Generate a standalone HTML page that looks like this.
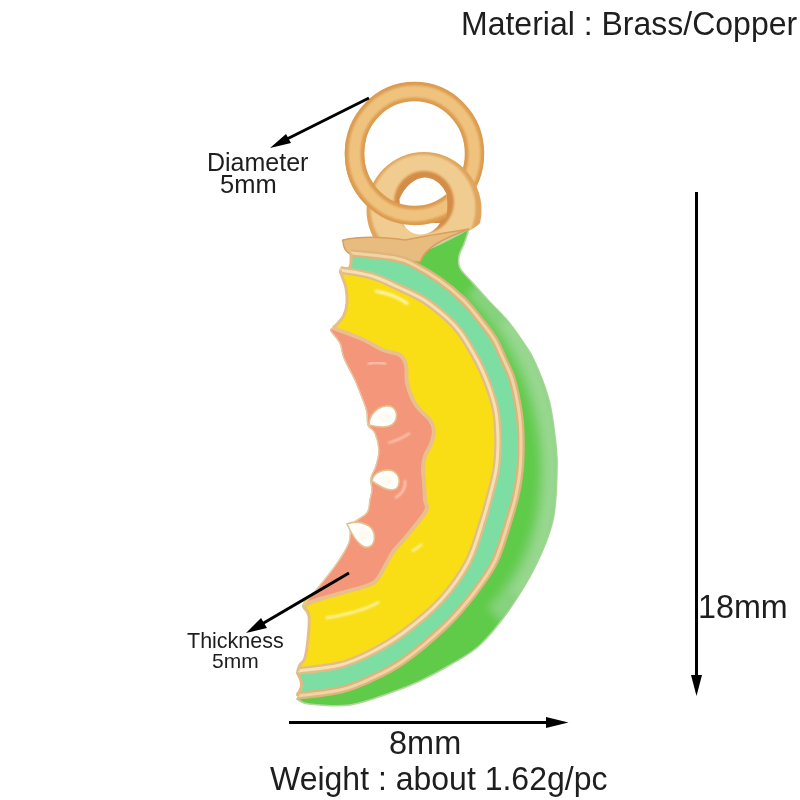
<!DOCTYPE html>
<html><head><meta charset="utf-8">
<style>
html,body{margin:0;padding:0;background:#fff;}
body{width:800px;height:800px;position:relative;overflow:hidden;font-family:"Liberation Sans",sans-serif;color:#1e1e1e;}
.t{position:absolute;white-space:nowrap;line-height:1;will-change:transform;}
svg{position:absolute;left:0;top:0;}
</style></head><body>
<svg width="800" height="800" viewBox="0 0 800 800">
<defs>
<filter id="soft" x="0" y="0" width="800" height="800" filterUnits="userSpaceOnUse"><feGaussianBlur stdDeviation="0.7"/></filter>
<filter id="b1" x="-20%" y="-20%" width="140%" height="140%"><feGaussianBlur stdDeviation="1.2"/></filter>
<filter id="b2" x="-20%" y="-20%" width="140%" height="140%"><feGaussianBlur stdDeviation="2.5"/></filter>
<filter id="b4" x="-20%" y="-20%" width="140%" height="140%"><feGaussianBlur stdDeviation="5"/></filter>
<clipPath id="cfront"><path d="M330 140 L440 140 C446 180 448 200 447 212 L444 240 L330 240 Z"/></clipPath>
<clipPath id="csr"><path d="M350 140 L500 140 L500 200 C490 215 480 225 469 231 L440 270 L350 270 Z"/></clipPath>
<clipPath id="cg"><path d="M469.0 229.0 C468.2 231.5 465.7 239.5 464.0 244.0 C462.3 248.5 459.7 252.0 459.0 256.0 C458.3 260.0 458.0 263.8 460.0 268.0 C462.0 272.2 466.3 275.7 471.0 281.0 C475.7 286.3 482.0 293.5 488.0 300.0 C494.0 306.5 501.5 313.5 507.0 320.0 C512.5 326.5 516.5 332.3 521.0 339.0 C525.5 345.7 529.3 349.8 534.0 360.0 C538.7 370.2 545.3 385.8 549.0 400.0 C552.7 414.2 554.7 433.0 556.0 445.0 C557.3 457.0 557.5 459.5 557.0 472.0 C556.5 484.5 556.5 504.5 553.0 520.0 C549.5 535.5 543.3 550.0 536.0 565.0 C528.7 580.0 518.3 596.7 509.0 610.0 C499.7 623.3 489.8 635.8 480.0 645.0 C470.2 654.2 460.0 659.0 450.0 665.0 C440.0 671.0 430.0 676.3 420.0 681.0 C410.0 685.7 401.7 689.0 390.0 693.0 C378.3 697.0 363.5 703.2 350.0 705.0 C336.5 706.8 317.8 705.0 309.0 704.0 C300.2 703.0 299.0 699.8 297.0 699.0 C297.7 697.2 300.3 691.0 301.0 688.0 C301.7 685.0 301.7 683.7 301.0 681.0 C300.3 678.3 297.2 674.7 297.0 672.0 C296.8 669.3 298.7 667.3 300.0 665.0 C301.3 662.7 303.7 662.3 305.0 658.0 C306.3 653.7 307.3 646.0 308.0 639.0 C308.7 632.0 309.8 621.7 309.0 616.0 C308.2 610.3 301.5 609.7 303.0 605.0 C304.5 600.3 312.5 594.7 318.0 588.0 C323.5 581.3 330.8 572.5 336.0 565.0 C341.2 557.5 346.3 549.7 349.0 543.0 C351.7 536.3 349.0 530.0 352.0 525.0 C355.0 520.0 364.0 517.2 367.0 513.0 C370.0 508.8 369.2 503.8 370.0 500.0 C370.8 496.2 371.8 493.7 372.0 490.0 C372.2 486.3 370.3 482.0 371.0 478.0 C371.7 474.0 374.7 470.7 376.0 466.0 C377.3 461.3 379.2 455.5 379.0 450.0 C378.8 444.5 376.8 437.2 375.0 433.0 C373.2 428.8 369.3 428.5 368.0 425.0 C366.7 421.5 367.8 416.2 367.0 412.0 C366.2 407.8 365.0 405.3 363.0 400.0 C361.0 394.7 358.2 387.0 355.0 380.0 C351.8 373.0 346.5 364.2 344.0 358.0 C341.5 351.8 342.2 347.5 340.0 343.0 C337.8 338.5 332.2 333.5 331.0 331.0 C329.8 328.5 331.7 329.5 333.0 328.0 C334.3 326.5 337.2 324.2 339.0 322.0 C340.8 319.8 342.7 318.2 344.0 315.0 C345.3 311.8 346.7 307.5 347.0 303.0 C347.3 298.5 346.8 292.5 346.0 288.0 C345.2 283.5 343.0 279.0 342.0 276.0 C341.0 273.0 338.7 271.5 340.0 270.0 C341.3 268.5 348.2 269.8 350.0 267.0 C351.8 264.2 352.2 257.3 351.0 253.0 C349.8 248.7 344.3 243.0 343.0 241.0 C350.8 242.8 376.3 250.5 390.0 252.0 C403.7 253.5 411.8 253.8 425.0 250.0 C438.2 246.2 461.7 232.5 469.0 229.0 Z"/></clipPath>
<clipPath id="cy"><path d="M340.0 270.0 C345.3 271.0 362.0 273.0 372.0 276.0 C382.0 279.0 391.3 284.0 400.0 288.0 C408.7 292.0 416.2 295.0 424.0 300.0 C431.8 305.0 441.0 312.7 447.0 318.0 C453.0 323.3 455.8 326.5 460.0 332.0 C464.2 337.5 468.3 344.7 472.0 351.0 C475.7 357.3 479.0 363.5 482.0 370.0 C485.0 376.5 487.8 383.8 490.0 390.0 C492.2 396.2 493.8 402.0 495.0 407.0 C496.2 412.0 496.5 413.7 497.0 420.0 C497.5 426.3 498.2 436.7 498.0 445.0 C497.8 453.3 497.3 461.7 496.0 470.0 C494.7 478.3 492.2 486.7 490.0 495.0 C487.8 503.3 486.7 508.8 483.0 520.0 C479.3 531.2 475.0 548.7 468.0 562.0 C461.0 575.3 451.8 588.2 441.0 600.0 C430.2 611.8 414.8 624.2 403.0 633.0 C391.2 641.8 380.5 647.7 370.0 653.0 C359.5 658.3 352.0 662.0 340.0 665.0 C328.0 668.0 305.0 670.0 298.0 671.0 C298.3 670.0 298.8 667.2 300.0 665.0 C301.2 662.8 303.7 662.3 305.0 658.0 C306.3 653.7 307.3 646.0 308.0 639.0 C308.7 632.0 309.8 621.7 309.0 616.0 C308.2 610.3 301.5 609.7 303.0 605.0 C304.5 600.3 312.5 594.7 318.0 588.0 C323.5 581.3 330.8 572.5 336.0 565.0 C341.2 557.5 346.3 549.7 349.0 543.0 C351.7 536.3 349.0 530.0 352.0 525.0 C355.0 520.0 364.0 517.2 367.0 513.0 C370.0 508.8 369.2 503.8 370.0 500.0 C370.8 496.2 371.8 493.7 372.0 490.0 C372.2 486.3 370.3 482.0 371.0 478.0 C371.7 474.0 374.7 470.7 376.0 466.0 C377.3 461.3 379.2 455.5 379.0 450.0 C378.8 444.5 376.8 437.2 375.0 433.0 C373.2 428.8 369.3 428.5 368.0 425.0 C366.7 421.5 367.8 416.2 367.0 412.0 C366.2 407.8 365.0 405.3 363.0 400.0 C361.0 394.7 358.2 387.0 355.0 380.0 C351.8 373.0 346.5 364.2 344.0 358.0 C341.5 351.8 342.2 347.5 340.0 343.0 C337.8 338.5 332.2 333.5 331.0 331.0 C329.8 328.5 331.7 329.5 333.0 328.0 C334.3 326.5 337.2 324.2 339.0 322.0 C340.8 319.8 342.7 318.2 344.0 315.0 C345.3 311.8 346.7 307.5 347.0 303.0 C347.3 298.5 346.8 292.5 346.0 288.0 C345.2 283.5 343.0 279.0 342.0 276.0 C341.0 273.0 340.3 271.0 340.0 270.0 Z"/></clipPath>
<clipPath id="cs"><path d="M333.0 328.0 C337.8 329.8 353.7 335.3 362.0 339.0 C370.3 342.7 376.7 347.3 383.0 350.0 C389.3 352.7 396.2 352.5 400.0 355.0 C403.8 357.5 404.8 360.3 406.0 365.0 C407.2 369.7 405.8 377.2 407.0 383.0 C408.2 388.8 410.8 395.5 413.0 400.0 C415.2 404.5 417.2 406.7 420.0 410.0 C422.8 413.3 427.7 416.5 430.0 420.0 C432.3 423.5 433.8 427.0 434.0 431.0 C434.2 435.0 432.5 439.8 431.0 444.0 C429.5 448.2 426.3 451.8 425.0 456.0 C423.7 460.2 423.2 464.8 423.0 469.0 C422.8 473.2 423.7 475.8 424.0 481.0 C424.3 486.2 424.7 495.0 425.0 500.0 C425.3 505.0 429.2 504.8 426.0 511.0 C422.8 517.2 411.5 530.2 406.0 537.0 C400.5 543.8 396.5 547.2 393.0 552.0 C389.5 556.8 388.3 560.8 385.0 566.0 C381.7 571.2 379.7 578.7 373.0 583.0 C366.3 587.3 353.8 589.3 345.0 592.0 C336.2 594.7 326.8 596.8 320.0 599.0 C313.2 601.2 306.7 604.0 304.0 605.0 C306.3 602.2 312.7 594.7 318.0 588.0 C323.3 581.3 330.8 572.5 336.0 565.0 C341.2 557.5 346.3 549.7 349.0 543.0 C351.7 536.3 349.0 530.0 352.0 525.0 C355.0 520.0 364.0 517.2 367.0 513.0 C370.0 508.8 369.2 503.8 370.0 500.0 C370.8 496.2 371.8 493.7 372.0 490.0 C372.2 486.3 370.3 482.0 371.0 478.0 C371.7 474.0 374.7 470.7 376.0 466.0 C377.3 461.3 379.2 455.5 379.0 450.0 C378.8 444.5 376.8 437.2 375.0 433.0 C373.2 428.8 369.3 428.5 368.0 425.0 C366.7 421.5 367.8 416.2 367.0 412.0 C366.2 407.8 365.0 405.3 363.0 400.0 C361.0 394.7 358.2 387.0 355.0 380.0 C351.8 373.0 346.5 364.2 344.0 358.0 C341.5 351.8 342.2 347.5 340.0 343.0 C337.8 338.5 332.2 333.5 331.0 331.0 C329.8 328.5 332.7 328.5 333.0 328.0 Z"/></clipPath>
</defs>
<g filter="url(#soft)">
<!-- big jump ring back -->
<g id="bigring">
<ellipse cx="414.5" cy="153.5" rx="60" ry="62" fill="none" stroke="#dc9c50" stroke-width="19.5"/>
<ellipse cx="414.5" cy="153.5" rx="60" ry="62" fill="none" stroke="#efc27e" stroke-width="12" filter="url(#b1)"/>
</g>
<!-- small ring -->
<g clip-path="url(#csr)">
<ellipse cx="424" cy="210" rx="57.5" ry="58" fill="#e0a45c"/>
<ellipse cx="423" cy="208" rx="52.5" ry="53.5" fill="#f1cc90" filter="url(#b1)"/>
</g>
<ellipse cx="424" cy="202" rx="30" ry="31" fill="#d48d46" filter="url(#b1)"/>
<path d="M399.5 199 C405 186 415 177.5 425 177.5 C436 178 443 186 447 195 L446 207 L400 207 Z" fill="#fff"/>
<path d="M403 223 L440 223 C436 230 428 234.5 420 234.5 C412 234 406 230 403 223 Z" fill="#fff"/>
<!-- big ring front part -->
<g clip-path="url(#cfront)"><use href="#bigring"/></g>
<!-- charm body -->
<path d="M469.0 229.0 C468.2 231.5 465.7 239.5 464.0 244.0 C462.3 248.5 459.7 252.0 459.0 256.0 C458.3 260.0 458.0 263.8 460.0 268.0 C462.0 272.2 466.3 275.7 471.0 281.0 C475.7 286.3 482.0 293.5 488.0 300.0 C494.0 306.5 501.5 313.5 507.0 320.0 C512.5 326.5 516.5 332.3 521.0 339.0 C525.5 345.7 529.3 349.8 534.0 360.0 C538.7 370.2 545.3 385.8 549.0 400.0 C552.7 414.2 554.7 433.0 556.0 445.0 C557.3 457.0 557.5 459.5 557.0 472.0 C556.5 484.5 556.5 504.5 553.0 520.0 C549.5 535.5 543.3 550.0 536.0 565.0 C528.7 580.0 518.3 596.7 509.0 610.0 C499.7 623.3 489.8 635.8 480.0 645.0 C470.2 654.2 460.0 659.0 450.0 665.0 C440.0 671.0 430.0 676.3 420.0 681.0 C410.0 685.7 401.7 689.0 390.0 693.0 C378.3 697.0 363.5 703.2 350.0 705.0 C336.5 706.8 317.8 705.0 309.0 704.0 C300.2 703.0 299.0 699.8 297.0 699.0 C297.7 697.2 300.3 691.0 301.0 688.0 C301.7 685.0 301.7 683.7 301.0 681.0 C300.3 678.3 297.2 674.7 297.0 672.0 C296.8 669.3 298.7 667.3 300.0 665.0 C301.3 662.7 303.7 662.3 305.0 658.0 C306.3 653.7 307.3 646.0 308.0 639.0 C308.7 632.0 309.8 621.7 309.0 616.0 C308.2 610.3 301.5 609.7 303.0 605.0 C304.5 600.3 312.5 594.7 318.0 588.0 C323.5 581.3 330.8 572.5 336.0 565.0 C341.2 557.5 346.3 549.7 349.0 543.0 C351.7 536.3 349.0 530.0 352.0 525.0 C355.0 520.0 364.0 517.2 367.0 513.0 C370.0 508.8 369.2 503.8 370.0 500.0 C370.8 496.2 371.8 493.7 372.0 490.0 C372.2 486.3 370.3 482.0 371.0 478.0 C371.7 474.0 374.7 470.7 376.0 466.0 C377.3 461.3 379.2 455.5 379.0 450.0 C378.8 444.5 376.8 437.2 375.0 433.0 C373.2 428.8 369.3 428.5 368.0 425.0 C366.7 421.5 367.8 416.2 367.0 412.0 C366.2 407.8 365.0 405.3 363.0 400.0 C361.0 394.7 358.2 387.0 355.0 380.0 C351.8 373.0 346.5 364.2 344.0 358.0 C341.5 351.8 342.2 347.5 340.0 343.0 C337.8 338.5 332.2 333.5 331.0 331.0 C329.8 328.5 331.7 329.5 333.0 328.0 C334.3 326.5 337.2 324.2 339.0 322.0 C340.8 319.8 342.7 318.2 344.0 315.0 C345.3 311.8 346.7 307.5 347.0 303.0 C347.3 298.5 346.8 292.5 346.0 288.0 C345.2 283.5 343.0 279.0 342.0 276.0 C341.0 273.0 338.7 271.5 340.0 270.0 C341.3 268.5 348.2 269.8 350.0 267.0 C351.8 264.2 352.2 257.3 351.0 253.0 C349.8 248.7 344.3 243.0 343.0 241.0 C350.8 242.8 376.3 250.5 390.0 252.0 C403.7 253.5 411.8 253.8 425.0 250.0 C438.2 246.2 461.7 232.5 469.0 229.0 Z" fill="#5fcb4a" stroke="#b4d6a0" stroke-width="1.6"/>
<g clip-path="url(#cg)">
<path d="M478 283 C530 335 556 405 556 470 C556 535 535 580 500 620" fill="none" stroke="#8ed486" stroke-width="34" opacity="0.85" filter="url(#b4)"/>
<path d="M505 320 C538 365 552 420 552 470 C552 525 538 565 515 595" fill="none" stroke="#a8dca0" stroke-width="10" opacity="0.7" filter="url(#b4)"/>
</g>
<!-- gold plate -->
<path d="M343 240 C360 236 385 237 405 240 C425 236 450 232 469 229 C458 233 446 238 436 244 C428 249 423 254 420 262 C408 261 392 258 380 256 C365 255 355 255 350 254 C346 252 343 248 343 240 Z" fill="#e8bc7e" stroke="#d99e5c" stroke-width="1.5"/>
<path d="M351.0 253.0 C358.3 253.8 384.5 256.0 395.0 258.0 C405.5 260.0 406.7 261.3 414.0 265.0 C421.3 268.7 430.8 274.2 439.0 280.0 C447.2 285.8 456.2 293.3 463.0 300.0 C469.8 306.7 474.8 313.5 480.0 320.0 C485.2 326.5 490.2 332.7 494.0 339.0 C497.8 345.3 500.2 351.8 503.0 358.0 C505.8 364.2 508.8 369.8 511.0 376.0 C513.2 382.2 514.5 387.7 516.0 395.0 C517.5 402.3 519.2 411.7 520.0 420.0 C520.8 428.3 521.0 436.7 521.0 445.0 C521.0 453.3 520.8 461.7 520.0 470.0 C519.2 478.3 517.8 486.7 516.0 495.0 C514.2 503.3 512.5 509.0 509.0 520.0 C505.5 531.0 500.8 548.8 495.0 561.0 C489.2 573.2 482.2 582.3 474.0 593.0 C465.8 603.7 457.8 613.7 446.0 625.0 C434.2 636.3 415.7 652.0 403.0 661.0 C390.3 670.0 380.5 674.2 370.0 679.0 C359.5 683.8 352.2 687.2 340.0 690.0 C327.8 692.8 304.2 695.0 297.0 696.0 C297.7 694.7 300.3 690.5 301.0 688.0 C301.7 685.5 301.7 683.7 301.0 681.0 C300.3 678.3 297.2 674.7 297.0 672.0 C296.8 669.3 298.7 667.3 300.0 665.0 C301.3 662.7 303.7 662.3 305.0 658.0 C306.3 653.7 307.3 646.0 308.0 639.0 C308.7 632.0 309.8 621.7 309.0 616.0 C308.2 610.3 301.5 609.7 303.0 605.0 C304.5 600.3 312.5 594.7 318.0 588.0 C323.5 581.3 330.8 572.5 336.0 565.0 C341.2 557.5 346.3 549.7 349.0 543.0 C351.7 536.3 349.0 530.0 352.0 525.0 C355.0 520.0 364.0 517.2 367.0 513.0 C370.0 508.8 369.2 503.8 370.0 500.0 C370.8 496.2 371.8 493.7 372.0 490.0 C372.2 486.3 370.3 482.0 371.0 478.0 C371.7 474.0 374.7 470.7 376.0 466.0 C377.3 461.3 379.2 455.5 379.0 450.0 C378.8 444.5 376.8 437.2 375.0 433.0 C373.2 428.8 369.3 428.5 368.0 425.0 C366.7 421.5 367.8 416.2 367.0 412.0 C366.2 407.8 365.0 405.3 363.0 400.0 C361.0 394.7 358.2 387.0 355.0 380.0 C351.8 373.0 346.5 364.2 344.0 358.0 C341.5 351.8 342.2 347.5 340.0 343.0 C337.8 338.5 332.2 333.5 331.0 331.0 C329.8 328.5 331.7 329.5 333.0 328.0 C334.3 326.5 337.2 324.2 339.0 322.0 C340.8 319.8 342.7 318.2 344.0 315.0 C345.3 311.8 346.7 307.5 347.0 303.0 C347.3 298.5 346.8 292.5 346.0 288.0 C345.2 283.5 343.0 279.0 342.0 276.0 C341.0 273.0 338.7 271.5 340.0 270.0 C341.3 268.5 348.2 269.8 350.0 267.0 C351.8 264.2 350.8 255.3 351.0 253.0 Z" fill="#7ddea4"/>
<path d="M351.0 253.0 C358.3 253.8 384.5 256.0 395.0 258.0 C405.5 260.0 406.7 261.3 414.0 265.0 C421.3 268.7 430.8 274.2 439.0 280.0 C447.2 285.8 456.2 293.3 463.0 300.0 C469.8 306.7 474.8 313.5 480.0 320.0 C485.2 326.5 490.2 332.7 494.0 339.0 C497.8 345.3 500.2 351.8 503.0 358.0 C505.8 364.2 508.8 369.8 511.0 376.0 C513.2 382.2 514.5 387.7 516.0 395.0 C517.5 402.3 519.2 411.7 520.0 420.0 C520.8 428.3 521.0 436.7 521.0 445.0 C521.0 453.3 520.8 461.7 520.0 470.0 C519.2 478.3 517.8 486.7 516.0 495.0 C514.2 503.3 512.5 509.0 509.0 520.0 C505.5 531.0 500.8 548.8 495.0 561.0 C489.2 573.2 482.2 582.3 474.0 593.0 C465.8 603.7 457.8 613.7 446.0 625.0 C434.2 636.3 415.7 652.0 403.0 661.0 C390.3 670.0 380.5 674.2 370.0 679.0 C359.5 683.8 352.2 687.2 340.0 690.0 C327.8 692.8 304.2 695.0 297.0 696.0" fill="none" stroke="#dfb47c" stroke-width="7.5"/>
<path d="M351.0 253.0 C358.3 253.8 384.5 256.0 395.0 258.0 C405.5 260.0 406.7 261.3 414.0 265.0 C421.3 268.7 430.8 274.2 439.0 280.0 C447.2 285.8 456.2 293.3 463.0 300.0 C469.8 306.7 474.8 313.5 480.0 320.0 C485.2 326.5 490.2 332.7 494.0 339.0 C497.8 345.3 500.2 351.8 503.0 358.0 C505.8 364.2 508.8 369.8 511.0 376.0 C513.2 382.2 514.5 387.7 516.0 395.0 C517.5 402.3 519.2 411.7 520.0 420.0 C520.8 428.3 521.0 436.7 521.0 445.0 C521.0 453.3 520.8 461.7 520.0 470.0 C519.2 478.3 517.8 486.7 516.0 495.0 C514.2 503.3 512.5 509.0 509.0 520.0 C505.5 531.0 500.8 548.8 495.0 561.0 C489.2 573.2 482.2 582.3 474.0 593.0 C465.8 603.7 457.8 613.7 446.0 625.0 C434.2 636.3 415.7 652.0 403.0 661.0 C390.3 670.0 380.5 674.2 370.0 679.0 C359.5 683.8 352.2 687.2 340.0 690.0 C327.8 692.8 304.2 695.0 297.0 696.0" fill="none" stroke="#efd4a4" stroke-width="3"/>
<path d="M297.0 696.0 C297.7 694.7 300.3 690.5 301.0 688.0 C301.7 685.5 301.7 683.7 301.0 681.0 C300.3 678.3 297.7 673.5 297.0 672.0" fill="none" stroke="#e3b97e" stroke-width="3"/>
<path d="M340.0 270.0 C341.7 269.5 348.2 269.8 350.0 267.0 C351.8 264.2 350.8 255.3 351.0 253.0" fill="none" stroke="#e3b97e" stroke-width="3"/>
<path d="M340.0 270.0 C345.3 271.0 362.0 273.0 372.0 276.0 C382.0 279.0 391.3 284.0 400.0 288.0 C408.7 292.0 416.2 295.0 424.0 300.0 C431.8 305.0 441.0 312.7 447.0 318.0 C453.0 323.3 455.8 326.5 460.0 332.0 C464.2 337.5 468.3 344.7 472.0 351.0 C475.7 357.3 479.0 363.5 482.0 370.0 C485.0 376.5 487.8 383.8 490.0 390.0 C492.2 396.2 493.8 402.0 495.0 407.0 C496.2 412.0 496.5 413.7 497.0 420.0 C497.5 426.3 498.2 436.7 498.0 445.0 C497.8 453.3 497.3 461.7 496.0 470.0 C494.7 478.3 492.2 486.7 490.0 495.0 C487.8 503.3 486.7 508.8 483.0 520.0 C479.3 531.2 475.0 548.7 468.0 562.0 C461.0 575.3 451.8 588.2 441.0 600.0 C430.2 611.8 414.8 624.2 403.0 633.0 C391.2 641.8 380.5 647.7 370.0 653.0 C359.5 658.3 352.0 662.0 340.0 665.0 C328.0 668.0 305.0 670.0 298.0 671.0 C298.3 670.0 298.8 667.2 300.0 665.0 C301.2 662.8 303.7 662.3 305.0 658.0 C306.3 653.7 307.3 646.0 308.0 639.0 C308.7 632.0 309.8 621.7 309.0 616.0 C308.2 610.3 301.5 609.7 303.0 605.0 C304.5 600.3 312.5 594.7 318.0 588.0 C323.5 581.3 330.8 572.5 336.0 565.0 C341.2 557.5 346.3 549.7 349.0 543.0 C351.7 536.3 349.0 530.0 352.0 525.0 C355.0 520.0 364.0 517.2 367.0 513.0 C370.0 508.8 369.2 503.8 370.0 500.0 C370.8 496.2 371.8 493.7 372.0 490.0 C372.2 486.3 370.3 482.0 371.0 478.0 C371.7 474.0 374.7 470.7 376.0 466.0 C377.3 461.3 379.2 455.5 379.0 450.0 C378.8 444.5 376.8 437.2 375.0 433.0 C373.2 428.8 369.3 428.5 368.0 425.0 C366.7 421.5 367.8 416.2 367.0 412.0 C366.2 407.8 365.0 405.3 363.0 400.0 C361.0 394.7 358.2 387.0 355.0 380.0 C351.8 373.0 346.5 364.2 344.0 358.0 C341.5 351.8 342.2 347.5 340.0 343.0 C337.8 338.5 332.2 333.5 331.0 331.0 C329.8 328.5 331.7 329.5 333.0 328.0 C334.3 326.5 337.2 324.2 339.0 322.0 C340.8 319.8 342.7 318.2 344.0 315.0 C345.3 311.8 346.7 307.5 347.0 303.0 C347.3 298.5 346.8 292.5 346.0 288.0 C345.2 283.5 343.0 279.0 342.0 276.0 C341.0 273.0 340.3 271.0 340.0 270.0 Z" fill="#f9de16"/>
<path d="M340.0 270.0 C345.3 271.0 362.0 273.0 372.0 276.0 C382.0 279.0 391.3 284.0 400.0 288.0 C408.7 292.0 416.2 295.0 424.0 300.0 C431.8 305.0 441.0 312.7 447.0 318.0 C453.0 323.3 455.8 326.5 460.0 332.0 C464.2 337.5 468.3 344.7 472.0 351.0 C475.7 357.3 479.0 363.5 482.0 370.0 C485.0 376.5 487.8 383.8 490.0 390.0 C492.2 396.2 493.8 402.0 495.0 407.0 C496.2 412.0 496.5 413.7 497.0 420.0 C497.5 426.3 498.2 436.7 498.0 445.0 C497.8 453.3 497.3 461.7 496.0 470.0 C494.7 478.3 492.2 486.7 490.0 495.0 C487.8 503.3 486.7 508.8 483.0 520.0 C479.3 531.2 475.0 548.7 468.0 562.0 C461.0 575.3 451.8 588.2 441.0 600.0 C430.2 611.8 414.8 624.2 403.0 633.0 C391.2 641.8 380.5 647.7 370.0 653.0 C359.5 658.3 352.0 662.0 340.0 665.0 C328.0 668.0 305.0 670.0 298.0 671.0" fill="none" stroke="#e2bc86" stroke-width="7.5"/>
<path d="M340.0 270.0 C345.3 271.0 362.0 273.0 372.0 276.0 C382.0 279.0 391.3 284.0 400.0 288.0 C408.7 292.0 416.2 295.0 424.0 300.0 C431.8 305.0 441.0 312.7 447.0 318.0 C453.0 323.3 455.8 326.5 460.0 332.0 C464.2 337.5 468.3 344.7 472.0 351.0 C475.7 357.3 479.0 363.5 482.0 370.0 C485.0 376.5 487.8 383.8 490.0 390.0 C492.2 396.2 493.8 402.0 495.0 407.0 C496.2 412.0 496.5 413.7 497.0 420.0 C497.5 426.3 498.2 436.7 498.0 445.0 C497.8 453.3 497.3 461.7 496.0 470.0 C494.7 478.3 492.2 486.7 490.0 495.0 C487.8 503.3 486.7 508.8 483.0 520.0 C479.3 531.2 475.0 548.7 468.0 562.0 C461.0 575.3 451.8 588.2 441.0 600.0 C430.2 611.8 414.8 624.2 403.0 633.0 C391.2 641.8 380.5 647.7 370.0 653.0 C359.5 658.3 352.0 662.0 340.0 665.0 C328.0 668.0 305.0 670.0 298.0 671.0" fill="none" stroke="#f5e0b4" stroke-width="3"/>
<path d="M298.0 671.0 C298.3 670.0 298.8 667.2 300.0 665.0 C301.2 662.8 303.7 662.3 305.0 658.0 C306.3 653.7 307.3 646.0 308.0 639.0 C308.7 632.0 309.8 621.7 309.0 616.0 C308.2 610.3 304.0 606.8 303.0 605.0" fill="none" stroke="#e6be86" stroke-width="3"/>
<path d="M333.0 328.0 C334.0 327.0 337.2 324.2 339.0 322.0 C340.8 319.8 342.7 318.2 344.0 315.0 C345.3 311.8 346.7 307.5 347.0 303.0 C347.3 298.5 346.8 292.5 346.0 288.0 C345.2 283.5 343.0 279.0 342.0 276.0 C341.0 273.0 340.3 271.0 340.0 270.0" fill="none" stroke="#e6be86" stroke-width="3"/>
<g clip-path="url(#cy)">
<path d="M375 291 C388 293 400 298 408 304" fill="none" stroke="#fff6b8" stroke-width="3" filter="url(#b1)"/>
<path d="M326 618 C345 615 365 610 379 602" fill="none" stroke="#fff6b8" stroke-width="2.5" filter="url(#b1)"/>
<path d="M412 551 C416 549 419 547 422 544" fill="none" stroke="#fff6b8" stroke-width="2" filter="url(#b1)"/>
</g>
<path d="M333.0 328.0 C337.8 329.8 353.7 335.3 362.0 339.0 C370.3 342.7 376.7 347.3 383.0 350.0 C389.3 352.7 396.2 352.5 400.0 355.0 C403.8 357.5 404.8 360.3 406.0 365.0 C407.2 369.7 405.8 377.2 407.0 383.0 C408.2 388.8 410.8 395.5 413.0 400.0 C415.2 404.5 417.2 406.7 420.0 410.0 C422.8 413.3 427.7 416.5 430.0 420.0 C432.3 423.5 433.8 427.0 434.0 431.0 C434.2 435.0 432.5 439.8 431.0 444.0 C429.5 448.2 426.3 451.8 425.0 456.0 C423.7 460.2 423.2 464.8 423.0 469.0 C422.8 473.2 423.7 475.8 424.0 481.0 C424.3 486.2 424.7 495.0 425.0 500.0 C425.3 505.0 429.2 504.8 426.0 511.0 C422.8 517.2 411.5 530.2 406.0 537.0 C400.5 543.8 396.5 547.2 393.0 552.0 C389.5 556.8 388.3 560.8 385.0 566.0 C381.7 571.2 379.7 578.7 373.0 583.0 C366.3 587.3 353.8 589.3 345.0 592.0 C336.2 594.7 326.8 596.8 320.0 599.0 C313.2 601.2 306.7 604.0 304.0 605.0 C306.3 602.2 312.7 594.7 318.0 588.0 C323.3 581.3 330.8 572.5 336.0 565.0 C341.2 557.5 346.3 549.7 349.0 543.0 C351.7 536.3 349.0 530.0 352.0 525.0 C355.0 520.0 364.0 517.2 367.0 513.0 C370.0 508.8 369.2 503.8 370.0 500.0 C370.8 496.2 371.8 493.7 372.0 490.0 C372.2 486.3 370.3 482.0 371.0 478.0 C371.7 474.0 374.7 470.7 376.0 466.0 C377.3 461.3 379.2 455.5 379.0 450.0 C378.8 444.5 376.8 437.2 375.0 433.0 C373.2 428.8 369.3 428.5 368.0 425.0 C366.7 421.5 367.8 416.2 367.0 412.0 C366.2 407.8 365.0 405.3 363.0 400.0 C361.0 394.7 358.2 387.0 355.0 380.0 C351.8 373.0 346.5 364.2 344.0 358.0 C341.5 351.8 342.2 347.5 340.0 343.0 C337.8 338.5 332.2 333.5 331.0 331.0 C329.8 328.5 332.7 328.5 333.0 328.0 Z" fill="#f3967a"/>
<path d="M333.0 328.0 C337.8 329.8 353.7 335.3 362.0 339.0 C370.3 342.7 376.7 347.3 383.0 350.0 C389.3 352.7 396.2 352.5 400.0 355.0 C403.8 357.5 404.8 360.3 406.0 365.0 C407.2 369.7 405.8 377.2 407.0 383.0 C408.2 388.8 410.8 395.5 413.0 400.0 C415.2 404.5 417.2 406.7 420.0 410.0 C422.8 413.3 427.7 416.5 430.0 420.0 C432.3 423.5 433.8 427.0 434.0 431.0 C434.2 435.0 432.5 439.8 431.0 444.0 C429.5 448.2 426.3 451.8 425.0 456.0 C423.7 460.2 423.2 464.8 423.0 469.0 C422.8 473.2 423.7 475.8 424.0 481.0 C424.3 486.2 424.7 495.0 425.0 500.0 C425.3 505.0 429.2 504.8 426.0 511.0 C422.8 517.2 411.5 530.2 406.0 537.0 C400.5 543.8 396.5 547.2 393.0 552.0 C389.5 556.8 388.3 560.8 385.0 566.0 C381.7 571.2 379.7 578.7 373.0 583.0 C366.3 587.3 353.8 589.3 345.0 592.0 C336.2 594.7 326.8 596.8 320.0 599.0 C313.2 601.2 306.7 604.0 304.0 605.0" fill="none" stroke="#e9c08c" stroke-width="4"/>
<path d="M304.0 605.0 C306.3 602.2 312.7 594.7 318.0 588.0 C323.3 581.3 330.8 572.5 336.0 565.0 C341.2 557.5 346.3 549.7 349.0 543.0 C351.7 536.3 349.0 530.0 352.0 525.0 C355.0 520.0 364.0 517.2 367.0 513.0 C370.0 508.8 369.2 503.8 370.0 500.0 C370.8 496.2 371.8 493.7 372.0 490.0 C372.2 486.3 370.3 482.0 371.0 478.0 C371.7 474.0 374.7 470.7 376.0 466.0 C377.3 461.3 379.2 455.5 379.0 450.0 C378.8 444.5 376.8 437.2 375.0 433.0 C373.2 428.8 369.3 428.5 368.0 425.0 C366.7 421.5 367.8 416.2 367.0 412.0 C366.2 407.8 365.0 405.3 363.0 400.0 C361.0 394.7 358.2 387.0 355.0 380.0 C351.8 373.0 346.5 364.2 344.0 358.0 C341.5 351.8 342.2 347.5 340.0 343.0 C337.8 338.5 332.2 333.5 331.0 331.0 C329.8 328.5 332.7 328.5 333.0 328.0" fill="none" stroke="#f2c4a4" stroke-width="1.2"/>
<g clip-path="url(#cs)">
<path d="M368 364 C374 362 380 362 386 364" fill="none" stroke="#ffd8c8" stroke-width="2.2" filter="url(#b1)"/>
<path d="M388 443 C396 441 404 437 410 433" fill="none" stroke="#ffd0bc" stroke-width="1.8" filter="url(#b1)"/>
<path d="M395 498 C402 494 406 488 405 480" fill="none" stroke="#ffd0bc" stroke-width="1.8" filter="url(#b1)"/>
<path d="M400 572 C390 580 378 587 365 592" fill="none" stroke="#ffd0bc" stroke-width="1.6" filter="url(#b1)"/>
</g>
<!-- seeds -->
<g stroke="#e6c08a" stroke-width="1.6" fill="#fff">
<path d="M369 425 C369 416 376 407 386 406 C394 405 398 412 396 419 C394 427 384 429 369 425 Z"/>
<path d="M372 481 C373 474 380 470 388 470 C396 470 400 477 399 483 C398 491 390 494 372 481 Z"/>
<path d="M347 524 C354 521 362 522 369 526 C375 530 376 540 372 545 C366 551 357 546 347 524 Z"/>
</g>
<g fill="#fffaf2" filter="url(#b1)">
<ellipse cx="385" cy="417" rx="7" ry="6"/>
<ellipse cx="387" cy="480" rx="7" ry="6"/>
<ellipse cx="363" cy="534" rx="6" ry="7"/>
</g>
</g>
<!-- arrows -->
<line x1="369" y1="98" x2="285" y2="140" stroke="#000" stroke-width="3"/>
<polygon points="270,148 286,134 291,143" fill="#000"/>
<line x1="349" y1="573" x2="262" y2="624" stroke="#000" stroke-width="3"/>
<polygon points="246,633 261,618 267,628" fill="#000"/>
<rect x="695" y="192" width="3" height="485" fill="#000"/>
<polygon points="691,675 702,675 696.5,696" fill="#000"/>
<rect x="289" y="721" width="260" height="3" fill="#000"/>
<polygon points="546,717 546,728 568.5,722.5" fill="#000"/>
</svg>
<div class="t" style="left:461px;top:7px;font-size:32px;transform:scaleY(1.04);transform-origin:0 0">Material : Brass/Copper</div>
<div class="t" style="left:207px;top:149.5px;font-size:25px;">Diameter</div>
<div class="t" style="left:220px;top:172px;font-size:25.5px;">5mm</div>
<div class="t" style="left:187px;top:631px;font-size:21.5px;">Thickness</div>
<div class="t" style="left:212px;top:650px;font-size:21px;">5mm</div>
<div class="t" style="left:698px;top:590px;font-size:32.3px;transform:scaleY(1.04);transform-origin:0 0">18mm</div>
<div class="t" style="left:389px;top:726px;font-size:32.5px;transform:scaleY(1.04);transform-origin:0 0">8mm</div>
<div class="t" style="left:270px;top:762px;font-size:32px;transform:scaleY(1.04);transform-origin:0 0">Weight : about 1.62g/pc</div>
</body></html>
